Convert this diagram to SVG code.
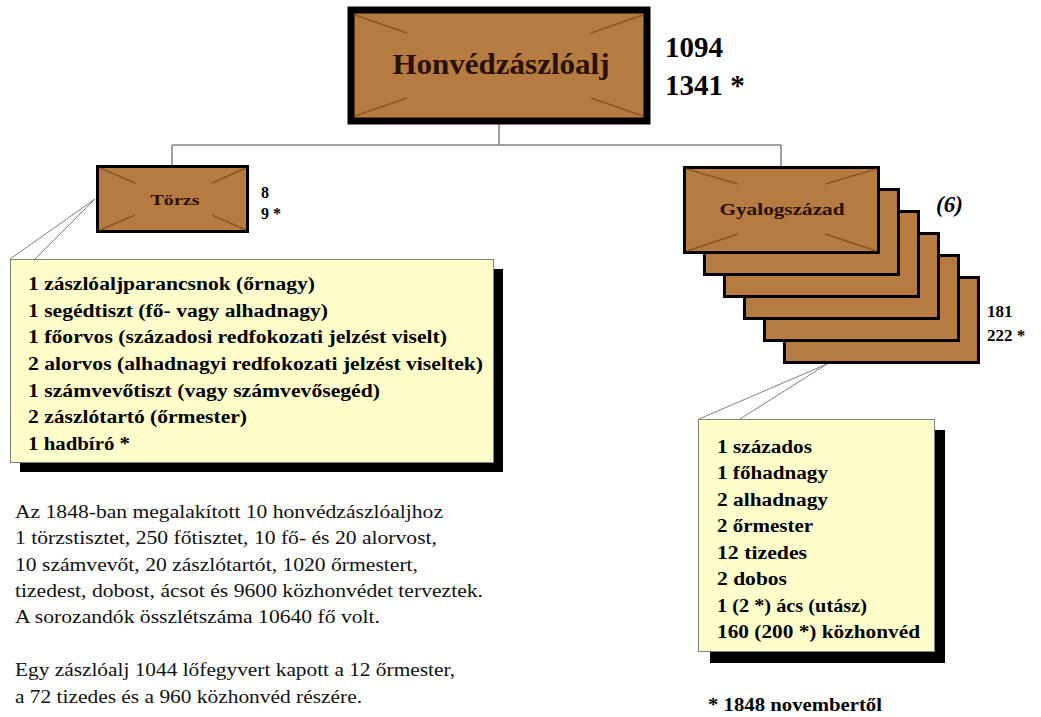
<svg xmlns="http://www.w3.org/2000/svg" width="1041" height="717" viewBox="0 0 1041 717">
  <style>
    text { font-family: "Liberation Serif", "Times New Roman", Times, serif; fill: #000; }
    .b { font-weight: bold; }
    .box { fill: #b57b40; stroke: #000; }
    .diag { stroke: #8a5626; stroke-width: 1.5; fill: none; }
    .lbl { font-weight: bold; fill: #2a1000; text-anchor: middle; }
    .note { fill: #ffffcc; stroke: #808080; stroke-width: 1; }
    .shadow { fill: #000; }
    .conn { stroke: #808080; stroke-width: 1.5; fill: none; }
    .call { stroke: #808080; stroke-width: 1; fill: none; }
    .nt { font-weight: bold; font-size: 18px; }
    .pt { font-size: 18px; fill: #111; }
  </style>
  <rect width="1041" height="717" fill="#fff"/>

  <g id="connectors">
    <line class="conn" x1="499" y1="124" x2="499" y2="145"/>
    <line class="conn" x1="172" y1="145" x2="781" y2="145"/>
    <line class="conn" x1="172" y1="145" x2="172" y2="165"/>
    <line class="conn" x1="781" y1="145" x2="781" y2="166"/>
    <line class="call" x1="95" y1="199" x2="10" y2="259"/>
    <line class="call" x1="95" y1="199" x2="35" y2="259"/>
    <line class="call" x1="827" y1="364" x2="699" y2="419"/>
    <line class="call" x1="827" y1="364" x2="740" y2="419"/>
  </g>

  <g id="node-honvedzaszloalj">
    <rect class="box" x="351" y="10" width="296" height="111" stroke-width="7"/>
    <line class="diag" x1="355" y1="15" x2="407" y2="33"/>
    <line class="diag" x1="643" y1="15" x2="591" y2="33"/>
    <line class="diag" x1="355" y1="116" x2="407" y2="98"/>
    <line class="diag" x1="643" y1="116" x2="591" y2="98"/>
    <text class="lbl" x="501" y="74" font-size="29" textLength="217" lengthAdjust="spacingAndGlyphs">Honvédzászlóalj</text>
    <text class="b" x="665" y="57" font-size="29">1094</text>
    <text class="b" x="665" y="95" font-size="29">1341 *</text>
  </g>

  <g id="node-torzs">
    <rect class="box" x="97.5" y="166.5" width="150" height="65" stroke-width="3"/>
    <line class="diag" x1="100" y1="168" x2="135" y2="183"/>
    <line class="diag" x1="246" y1="168" x2="212" y2="183"/>
    <line class="diag" x1="100" y1="230" x2="135" y2="215"/>
    <line class="diag" x1="246" y1="230" x2="212" y2="215"/>
    <text class="lbl" x="175" y="205" font-size="15" textLength="49" lengthAdjust="spacingAndGlyphs">Törzs</text>
    <text class="b" x="261" y="198" font-size="16">8</text>
    <text class="b" x="261" y="219" font-size="16">9 *</text>
  </g>

  <g id="node-gyalogszazad">
    <rect class="box" x="784.5" y="277.5" width="194" height="85" stroke-width="3"/>
    <rect class="box" x="764.5" y="255.5" width="194" height="85" stroke-width="3"/>
    <rect class="box" x="744.5" y="233.5" width="194" height="85" stroke-width="3"/>
    <rect class="box" x="724.5" y="211.5" width="194" height="85" stroke-width="3"/>
    <rect class="box" x="704.5" y="189.5" width="194" height="85" stroke-width="3"/>
    <rect class="box" x="684.5" y="167.5" width="194" height="85" stroke-width="3"/>
    <line class="diag" x1="687" y1="169" x2="738" y2="184"/>
    <line class="diag" x1="876" y1="169" x2="825" y2="184"/>
    <line class="diag" x1="687" y1="251" x2="738" y2="234"/>
    <line class="diag" x1="876" y1="251" x2="825" y2="234"/>
    <text class="lbl" x="782" y="215" font-size="16" textLength="125" lengthAdjust="spacingAndGlyphs">Gyalogszázad</text>
    <text class="b" x="936" y="212" font-size="23" font-style="italic">(6)</text>
    <text class="b" x="987" y="317" font-size="17">181</text>
    <text class="b" x="987" y="341" font-size="17">222 *</text>
  </g>

  <g id="note-torzs">
    <rect class="shadow" x="20" y="269" width="483" height="203"/>
    <rect class="note" x="10.5" y="259.5" width="483" height="203"/>
    <text class="nt" x="28" y="290" textLength="287" lengthAdjust="spacingAndGlyphs">1 zászlóaljparancsnok (őrnagy)</text>
    <text class="nt" x="28" y="316.7" textLength="300" lengthAdjust="spacingAndGlyphs">1 segédtiszt (fő- vagy alhadnagy)</text>
    <text class="nt" x="28" y="343.3" textLength="419" lengthAdjust="spacingAndGlyphs">1 főorvos (századosi redfokozati jelzést viselt)</text>
    <text class="nt" x="28" y="370" textLength="455" lengthAdjust="spacingAndGlyphs">2 alorvos (alhadnagyi redfokozati jelzést viseltek)</text>
    <text class="nt" x="28" y="396.7" textLength="352" lengthAdjust="spacingAndGlyphs">1 számvevőtiszt (vagy számvevősegéd)</text>
    <text class="nt" x="28" y="423.3" textLength="219" lengthAdjust="spacingAndGlyphs">2 zászlótartó (őrmester)</text>
    <text class="nt" x="28" y="450" textLength="102" lengthAdjust="spacingAndGlyphs">1 hadbíró *</text>
  </g>

  <g id="note-gyalogszazad">
    <rect class="shadow" x="710" y="430" width="235" height="233"/>
    <rect class="note" x="698.5" y="419.5" width="236" height="232"/>
    <text class="nt" x="717" y="453" textLength="95" lengthAdjust="spacingAndGlyphs">1 százados</text>
    <text class="nt" x="717" y="479.4" textLength="111" lengthAdjust="spacingAndGlyphs">1 főhadnagy</text>
    <text class="nt" x="717" y="505.9" textLength="111" lengthAdjust="spacingAndGlyphs">2 alhadnagy</text>
    <text class="nt" x="717" y="532.3" textLength="96" lengthAdjust="spacingAndGlyphs">2 őrmester</text>
    <text class="nt" x="717" y="558.7" textLength="90" lengthAdjust="spacingAndGlyphs">12 tizedes</text>
    <text class="nt" x="717" y="585.1" textLength="70" lengthAdjust="spacingAndGlyphs">2 dobos</text>
    <text class="nt" x="717" y="611.6" textLength="150" lengthAdjust="spacingAndGlyphs">1 (2 *) ács (utász)</text>
    <text class="nt" x="717" y="638" textLength="203" lengthAdjust="spacingAndGlyphs">160 (200 *) közhonvéd</text>
  </g>

  <g id="paragraph">
    <text class="pt" x="15" y="518" textLength="428" lengthAdjust="spacingAndGlyphs">Az 1848-ban megalakított 10 honvédzászlóaljhoz</text>
    <text class="pt" x="15" y="544" textLength="422" lengthAdjust="spacingAndGlyphs">1 törzstisztet, 250 főtisztet, 10 fő- és 20 alorvost,</text>
    <text class="pt" x="15" y="570.5" textLength="403" lengthAdjust="spacingAndGlyphs">10 számvevőt, 20 zászlótartót, 1020 őrmestert,</text>
    <text class="pt" x="15" y="596.5" textLength="468" lengthAdjust="spacingAndGlyphs">tizedest, dobost, ácsot és 9600 közhonvédet terveztek.</text>
    <text class="pt" x="15" y="622.5" textLength="365" lengthAdjust="spacingAndGlyphs">A sorozandók összlétszáma 10640 fő volt.</text>
    <text class="pt" x="15" y="676" textLength="440" lengthAdjust="spacingAndGlyphs">Egy zászlóalj 1044 lőfegyvert kapott a 12 őrmester,</text>
    <text class="pt" x="15" y="702.5" textLength="347" lengthAdjust="spacingAndGlyphs">a 72 tizedes és a 960 közhonvéd részére.</text>
  </g>

  <g id="footnote">
    <text class="nt" x="708" y="711" textLength="174" lengthAdjust="spacingAndGlyphs">* 1848 novembertől</text>
  </g>
</svg>
